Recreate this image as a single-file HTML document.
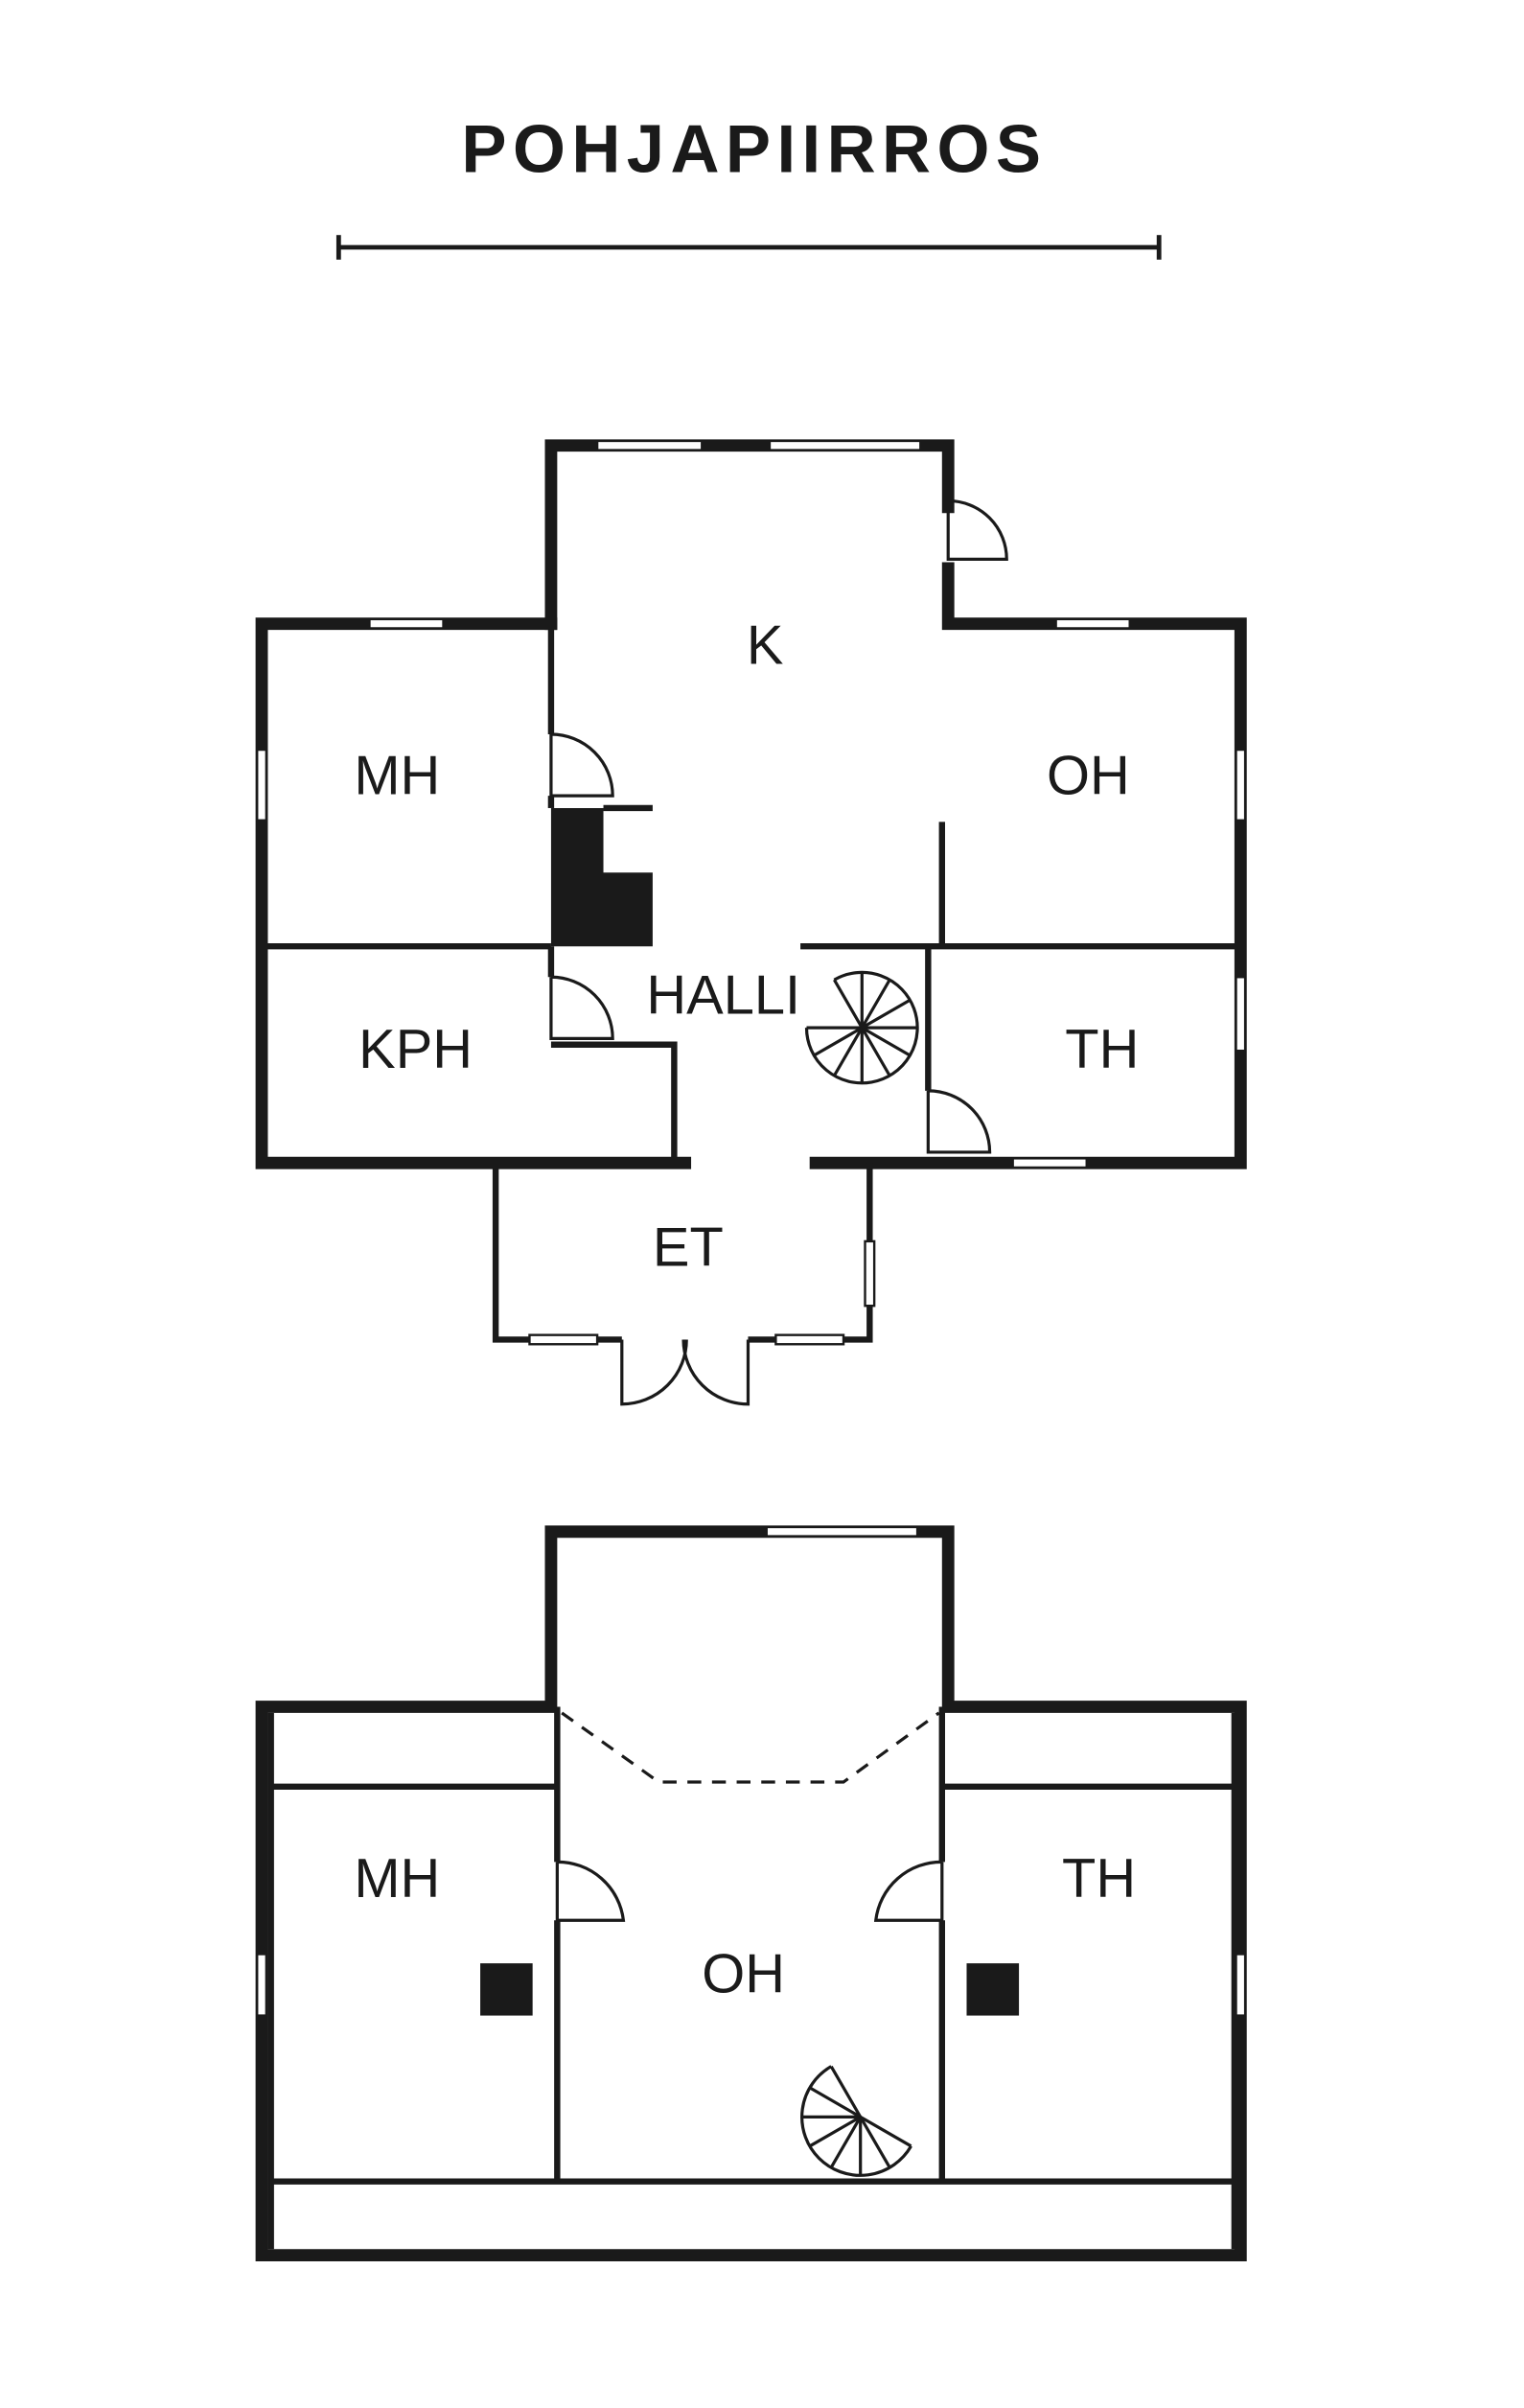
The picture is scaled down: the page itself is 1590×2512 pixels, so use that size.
<!DOCTYPE html>
<html><head><meta charset="utf-8"><style>
html,body{margin:0;padding:0;background:#fff;}
svg{display:block;}
text{font-family:"Liberation Sans",sans-serif;fill:#1a1a1a;}
</style></head><body>
<svg width="1590" height="2512" viewBox="0 0 1000 1580" xmlns="http://www.w3.org/2000/svg">
<rect width="1000" height="1580" fill="#fff"/>
<g transform="scale(1.01,1.008)">
<text x="490" y="112" font-size="44" font-weight="bold" text-anchor="middle" letter-spacing="4">POHJAPIIRROS</text>
<g stroke="#1a1a1a" stroke-width="3" fill="none">
<line x1="220" y1="161" x2="753" y2="161"/>
<line x1="220" y1="153" x2="220" y2="169"/>
<line x1="753" y1="153" x2="753" y2="169"/>
</g>
<!-- Ground floor outer walls -->
<g stroke="#1a1a1a" stroke-width="8" fill="none" stroke-linecap="square">
<polyline points="358,406 358,290 616,290 616,330"/>
<polyline points="616,370 616,406 806,406 806,757 530,757"/>
<polyline points="445,757 170,757 170,406 358,406"/>
</g>
<g stroke="#1a1a1a" stroke-width="4" fill="none">
<line x1="170" y1="616" x2="358" y2="616"/>
<line x1="358" y1="406" x2="358" y2="478"/>
<line x1="358" y1="518" x2="358" y2="526"/>
<line x1="392" y1="526" x2="424" y2="526"/>
<line x1="358" y1="616" x2="358" y2="636"/>
<polyline points="358,680 438,680 438,757"/>
<line x1="612" y1="535" x2="612" y2="616"/>
<line x1="520" y1="616" x2="806" y2="616"/>
<line x1="603" y1="616" x2="603" y2="710"/>
<polyline points="404,872 322,872 322,757"/>
<polyline points="486,872 565,872 565,757"/>
</g>
<polygon points="358,526 392,526 392,568 424,568 424,616 358,616" fill="#1a1a1a"/>
<!-- Upper floor -->
<g stroke="#1a1a1a" stroke-width="8" fill="none" stroke-linecap="square">
<polyline points="358,1111 358,997 616,997 616,1111 806,1111 806,1468 170,1468 170,1111 358,1111"/>
</g>
<g stroke="#1a1a1a" stroke-width="4" fill="none">
<line x1="176" y1="1163" x2="362" y2="1163"/>
<line x1="612" y1="1163" x2="802" y2="1163"/>
<line x1="176" y1="1420" x2="802" y2="1420"/>
<line x1="362" y1="1111" x2="362" y2="1212"/>
<line x1="362" y1="1250" x2="362" y2="1420"/>
<line x1="612" y1="1111" x2="612" y2="1212"/>
<line x1="612" y1="1250" x2="612" y2="1420"/>
<line x1="176" y1="1115" x2="176" y2="1464"/>
<line x1="802" y1="1115" x2="802" y2="1464"/>
</g>
<polyline points="365,1115 428,1160 548,1160 610,1115" stroke="#1a1a1a" stroke-width="2" fill="none" stroke-dasharray="9,7"/>
<rect x="312" y="1278" width="34" height="34" fill="#1a1a1a"/>
<rect x="628" y="1278" width="34" height="34" fill="#1a1a1a"/>
<!-- windows -->
<g fill="#fff" stroke="#1a1a1a" stroke-width="1.5">
<rect x="388" y="287" width="68" height="6"/>
<rect x="500" y="287" width="98" height="6"/>
<rect x="240" y="403" width="48" height="6"/>
<rect x="686" y="403" width="48" height="6"/>
<rect x="167" y="488" width="6" height="46"/>
<rect x="803" y="488" width="6" height="46"/>
<rect x="803" y="636" width="6" height="48"/>
<rect x="658" y="754" width="48" height="6"/>
<rect x="562" y="808" width="6" height="42"/>
<rect x="344" y="869" width="44" height="6"/>
<rect x="504" y="869" width="44" height="6"/>
<rect x="498" y="994" width="98" height="6"/>
<rect x="167" y="1272" width="6" height="40"/>
<rect x="803" y="1272" width="6" height="40"/>
</g>
<!-- doors -->
<g stroke="#1a1a1a" stroke-width="2" fill="none">
<path d="M616,330 L616,364 L654,364 A38,38 0 0 0 616,326"/>
<path d="M358,478 L358,518 L398,518 A40,40 0 0 0 358,478"/>
<path d="M358,636 L358,676 L398,676 A40,40 0 0 0 358,636"/>
<path d="M603,710 L603,750 L643,750 A40,40 0 0 0 603,710"/>
<path d="M404,872 L404,914 A42,42 0 0 0 446,872"/>
<path d="M486,872 L486,914 A42,42 0 0 1 444,872"/>
<line x1="445" y1="872" x2="445" y2="880"/>
<path d="M362,1212 L362,1250 L405,1250 A43,43 0 0 0 362,1212"/>
<path d="M612,1212 L612,1250 L569,1250 A43,43 0 0 1 612,1212"/>
</g>
<!-- spiral stairs -->
<g stroke="#1a1a1a" stroke-width="2" fill="none">
<path d="M542,637.8 A36,36 0 1 1 524,669"/>
<g>
<line x1="560" y1="669" x2="596" y2="669"/>
<line x1="560" y1="669" x2="591.2" y2="687"/>
<line x1="560" y1="669" x2="578" y2="700.2"/>
<line x1="560" y1="669" x2="560" y2="705"/>
<line x1="560" y1="669" x2="542" y2="700.2"/>
<line x1="560" y1="669" x2="528.8" y2="687"/>
<line x1="560" y1="669" x2="524" y2="669"/>
<line x1="560" y1="669" x2="542" y2="637.8"/>
<line x1="560" y1="669" x2="560" y2="633"/>
<line x1="560" y1="669" x2="578" y2="637.8"/>
<line x1="560" y1="669" x2="591.2" y2="651"/>
</g>
<path d="M540,1345.1 A38,38 0 1 0 591.9,1397"/>
<line x1="559" y1="1378" x2="540" y2="1345.1"/>
<line x1="559" y1="1378" x2="526.1" y2="1359"/>
<line x1="559" y1="1378" x2="521" y2="1378"/>
<line x1="559" y1="1378" x2="526.1" y2="1397"/>
<line x1="559" y1="1378" x2="540" y2="1410.9"/>
<line x1="559" y1="1378" x2="559" y2="1416"/>
<line x1="559" y1="1378" x2="578" y2="1410.9"/>
<line x1="559" y1="1378" x2="591.9" y2="1397"/>
</g>
<!-- labels -->
<g font-size="36">
<text x="497" y="432" text-anchor="middle">K</text>
<text x="258" y="517" text-anchor="middle">MH</text>
<text x="707" y="517" text-anchor="middle">OH</text>
<text x="470" y="660" text-anchor="middle">HALLI</text>
<text x="270" y="695" text-anchor="middle">KPH</text>
<text x="716" y="695" text-anchor="middle">TH</text>
<text x="447" y="824" text-anchor="middle">ET</text>
<text x="258" y="1235" text-anchor="middle">MH</text>
<text x="714" y="1235" text-anchor="middle">TH</text>
<text x="483" y="1297" text-anchor="middle">OH</text>
</g>
</g>
</svg>
</body></html>
